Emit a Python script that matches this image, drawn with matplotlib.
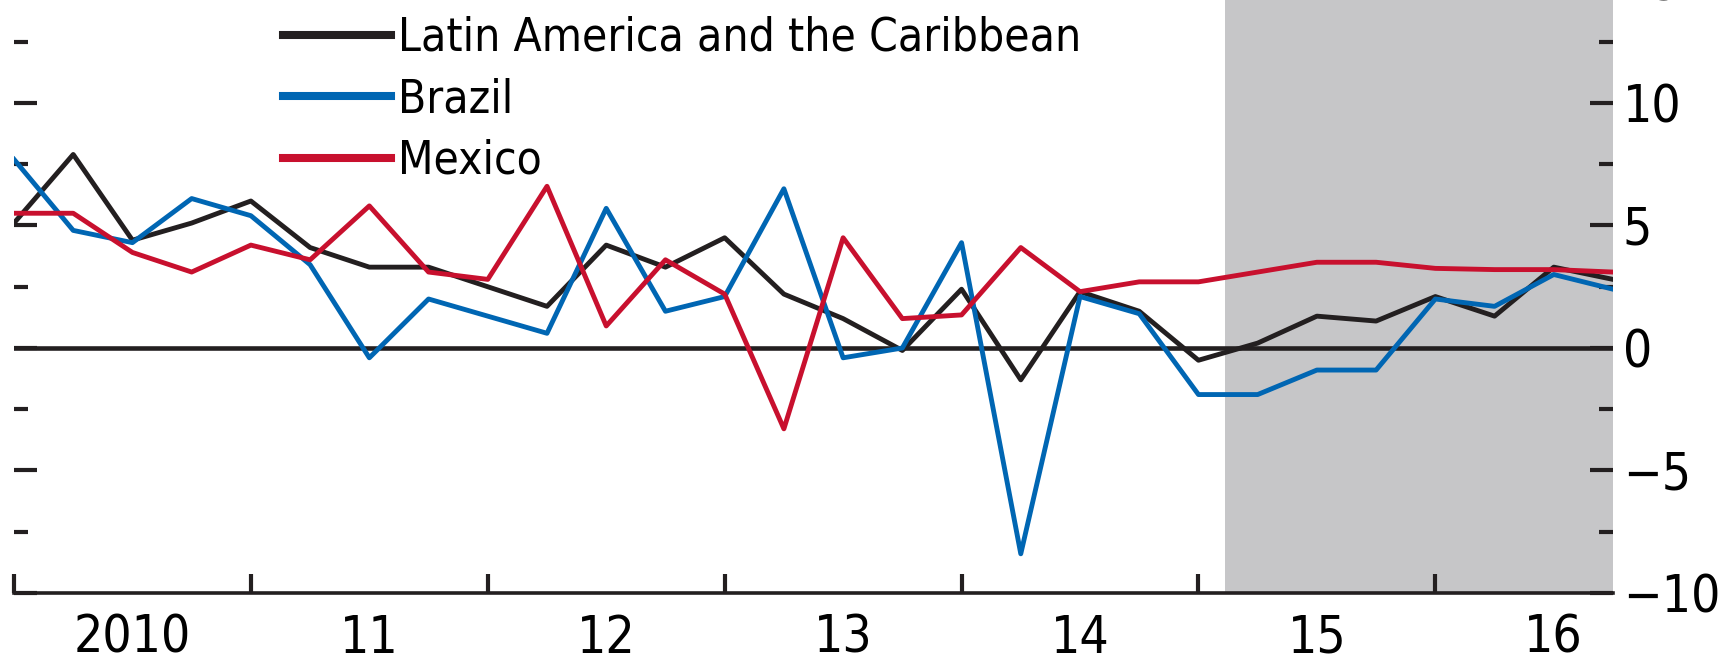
import numpy as np
import matplotlib as mpl
import matplotlib.pyplot as plt
from matplotlib.lines import Line2D
from matplotlib import font_manager as fm

# look for a condensed face; fall back to Liberation Sans
cond = fm.findfont(fm.FontProperties(family='DejaVu Sans', stretch='condensed'), fallback_to_default=True)
if 'Condensed' in cond:
    mpl.rcParams['font.family'] = ['DejaVu Sans']
    mpl.rcParams['font.stretch'] = 'condensed'
    fs, lfs = 37, 33
else:
    mpl.rcParams['font.family'] = ['Liberation Sans', 'DejaVu Sans']
    fs, lfs = 34, 30
mpl.rcParams['axes.unicode_minus'] = True

# quarterly growth, 2010Q1 .. 2016Q4
lac = [5.1, 7.9, 4.4, 5.1, 6.0, 4.1, 3.3, 3.3, 2.5, 1.7, 4.2, 3.3, 4.5, 2.2,
       1.2, -0.1, 2.4, -1.3, 2.3, 1.5, -0.5, 0.2, 1.3, 1.1, 2.1, 1.3, 3.3, 2.8]
brazil = [7.7, 4.8, 4.3, 6.1, 5.4, 3.4, -0.4, 2.0, 1.3, 0.6, 5.7, 1.5, 2.1, 6.5,
          -0.4, 0.0, 4.3, -8.4, 2.1, 1.4, -1.9, -1.9, -0.9, -0.9, 2.0, 1.7, 3.0, 2.4]
mexico = [5.5, 5.5, 3.9, 3.1, 4.2, 3.6, 5.8, 3.1, 2.8, 6.6, 0.9, 3.6, 2.2, -3.3,
          4.5, 1.2, 1.35, 4.1, 2.3, 2.7, 2.7, 3.1, 3.5, 3.5, 3.25, 3.2, 3.2, 3.1]
year_labels = ['2010', '11', '12', '13', '14', '15', '16']
series_names = ['Latin America and the Caribbean', 'Brazil', 'Mexico']
colors = ['#231F20', '#0066B3', '#C8102E']
forecast_start = 20.45

q = np.arange(len(lac))

fig = plt.figure(figsize=(17.23, 6.63), dpi=100)
ax = fig.add_axes([14 / 1723, 70 / 663, 1599 / 1723, 612.5 / 663])

ax.axvspan(forecast_start, len(lac) - 1, color='#C6C6C8', lw=0, zorder=0)
ax.axhline(0, color='#231F20', lw=3.3, zorder=1)

for vals, c in zip([lac, brazil, mexico], colors):
    ax.plot(q, vals, color=c, lw=3.5, zorder=3)

ax.set_xlim(0, len(lac) - 1)
ax.set_ylim(-10, 15)

for s in ['top', 'left', 'right']:
    ax.spines[s].set_visible(False)
ax.spines['bottom'].set_linewidth(2.6)
ax.spines['bottom'].set_color('#231F20')

# x: ticks at year starts, labels in middle of each year
ax.set_xticks(np.arange(0, len(lac), 4))
ax.set_xticklabels([])
ax.set_xticks(np.arange(2, len(lac) + 2, 4), minor=True)
ax.set_xticklabels(year_labels, minor=True)
ax.tick_params(axis='x', which='major', direction='in', length=13.5, width=3, color='#231F20')
ax.tick_params(axis='x', which='minor', length=0, pad=15, labelsize=fs)

ax.set_yticks(np.arange(-10, 16, 5))
ax.set_yticks(np.arange(-7.5, 15, 5), minor=True)
ax.tick_params(axis='y', which='both', direction='in', left=True, right=True,
               labelleft=False, labelright=True, width=3, color='#231F20', labelsize=fs, pad=7)
ax.tick_params(axis='y', which='major', length=16.5)
ax.tick_params(axis='y', which='minor', length=10)

em = lfs * 100 / 72
handles = [Line2D([], [], color=c, lw=5.8) for c in colors]
fig.legend(handles, series_names, loc='upper left', bbox_to_anchor=(283 / 1723, 0.976),
           frameon=False, fontsize=lfs, handlelength=108 / em, handletextpad=0.15,
           labelspacing=0.36, borderpad=0, borderaxespad=0)

fig.savefig('out.png', dpi=100)
